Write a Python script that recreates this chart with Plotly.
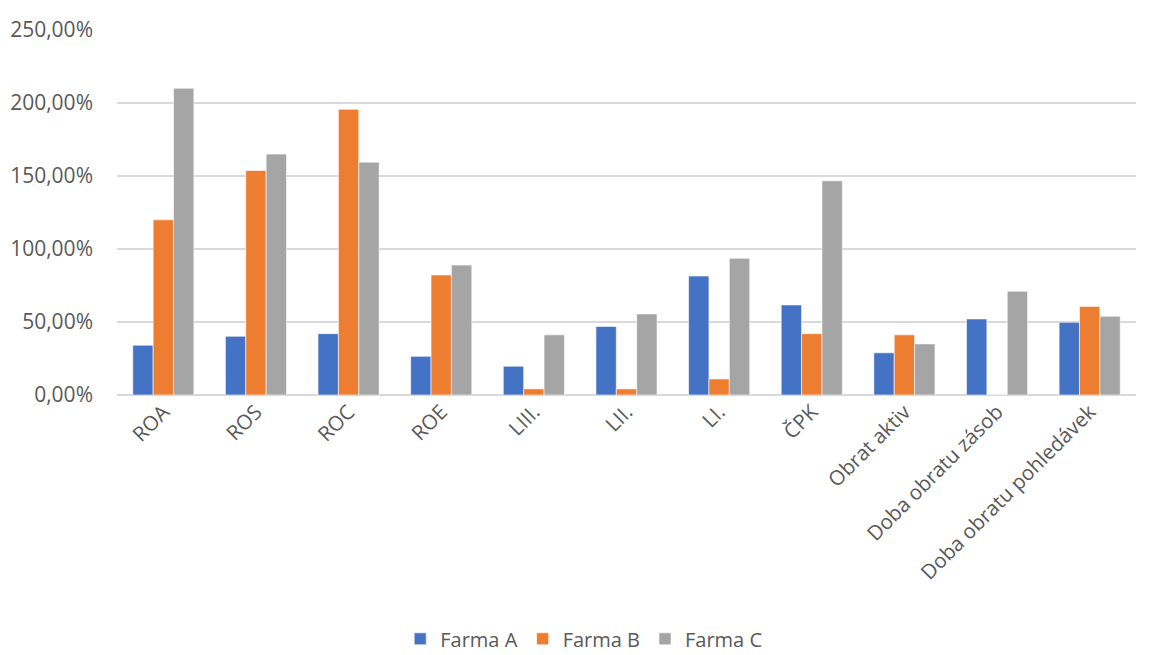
import plotly.graph_objects as go

categories = ["ROA", "ROS", "ROC", "ROE", "LIII.", "LII.", "LI.", "ČPK",
              "Obrat aktiv", "Doba obratu zásob", "Doba obratu pohledávek"]
farma_a = [34.1, 40.2, 42.0, 26.5, 19.7, 47.0, 81.5, 61.7, 28.9, 52.1, 49.8]
farma_b = [120.0, 153.8, 195.7, 82.2, 4.2, 4.2, 11.0, 42.0, 41.2, 0.0, 60.7]
farma_c = [210.1, 165.0, 159.5, 89.0, 41.2, 55.5, 93.6, 146.7, 35.0, 71.0, 53.9]
y_ticks = [0, 50, 100, 150, 200, 250]
y_tick_labels = ["0,00%", "50,00%", "100,00%", "150,00%", "200,00%", "250,00%"]

series = [("Farma A", farma_a, "#4472C4"),
          ("Farma B", farma_b, "#ED7D31"),
          ("Farma C", farma_c, "#A5A5A5")]

fig = go.Figure()
for name, vals, color in series:
    fig.add_trace(go.Bar(x=categories, y=vals, name=name,
                         marker=dict(color=color, line=dict(color="white", width=0.6))))

font_family = "Open Sans, Liberation Sans, sans-serif"
fig.update_layout(
    width=1154, height=655,
    margin=dict(l=117, r=18, t=30, b=259.5, autoexpand=False),
    paper_bgcolor="white", plot_bgcolor="white",
    barmode="group", bargap=0.34, bargroupgap=0,
    font=dict(family=font_family, color="#595959", size=20),
    legend=dict(orientation="h", x=0.458, xanchor="center", y=-0.668, yanchor="middle",
                font=dict(size=20, color="#595959"), itemwidth=30, traceorder="normal"),
    xaxis=dict(tickangle=-45, showgrid=False, showline=False, ticks="", automargin=False,
               tickfont=dict(size=20.5, color="#595959")),
    yaxis=dict(range=[0, 250], tickvals=y_ticks, ticktext=y_tick_labels, automargin=False,
               showgrid=True, gridcolor="#D9D9D9", gridwidth=2,
               zeroline=True, zerolinecolor="#D9D9D9", zerolinewidth=2,
               ticks="", ticklabelstandoff=23,
               tickfont=dict(size=21, color="#595959")),
)

fig.write_html("out.html")
